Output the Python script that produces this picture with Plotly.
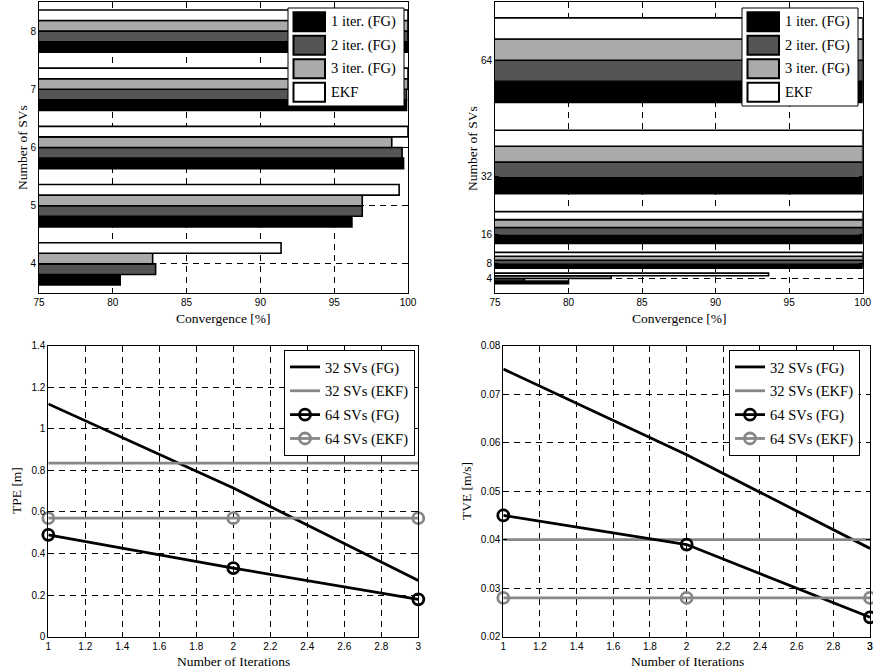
import plotly.graph_objects as go

# ---------------- data ----------------
# top-left: convergence [%] vs number of SVs (4..8)
sv_small = [4, 5, 6, 7, 8]
conv_small_it1 = [80.5, 96.2, 99.7, 99.9, 100.0]
conv_small_it2 = [82.9, 96.9, 99.6, 99.9, 100.0]
conv_small_it3 = [82.7, 96.9, 98.9, 100.0, 100.0]
conv_small_ekf = [91.4, 99.4, 100.0, 100.0, 100.0]

# top-right: convergence [%] vs number of SVs (4..64)
sv_large = [4, 8, 16, 32, 64]
conv_large_it1 = [80.0, 100.0, 100.0, 100.0, 100.0]
conv_large_it2 = [77.0, 100.0, 100.0, 100.0, 100.0]
conv_large_it3 = [82.9, 100.0, 100.0, 100.0, 100.0]
conv_large_ekf = [93.6, 100.0, 100.0, 100.0, 100.0]

bar_names = ["1 iter. (FG)", "2 iter. (FG)", "3 iter. (FG)", "EKF"]
conv_ticks = [75, 80, 85, 90, 95, 100]

# bottom: errors vs number of iterations
iters = [1, 2, 3]
iter_ticks = [1, 1.2, 1.4, 1.6, 1.8, 2, 2.2, 2.4, 2.6, 2.8, 3]
tpe_32_fg = [1.12, 0.715, 0.27]
tpe_32_ekf = [0.835, 0.835, 0.835]
tpe_64_fg = [0.49, 0.33, 0.18]
tpe_64_ekf = [0.57, 0.57, 0.57]
tve_32_fg = [0.0752, 0.0575, 0.0382]
tve_32_ekf = [0.040, 0.040, 0.040]
tve_64_fg = [0.045, 0.039, 0.024]
tve_64_ekf = [0.028, 0.028, 0.028]

line_names = ["32 SVs (FG)", "32 SVs (EKF)", "64 SVs (FG)", "64 SVs (EKF)"]

# ---------------- styles ----------------
W, H = 873, 672
BAR_COLORS = ["#000000", "#555555", "#aaaaaa", "#ffffff"]
GRAY = "#878787"
SANS = "Liberation Sans"
SERIF = "Liberation Serif"
GROUP_FRAC = 4 / 5.5


def px_x(p):
    return p / W


def px_y(p):
    return 1 - p / H


def cells(vals):
    mids = [(a + b) / 2 for a, b in zip(vals[:-1], vals[1:])]
    lo = [vals[0] - (vals[1] - vals[0]) / 2] + mids
    hi = mids + [vals[-1] + (vals[-1] - vals[-2]) / 2]
    return lo, hi


def grouped_positions(vals, n_series):
    lo, hi = cells(vals)
    out = []
    for j in range(n_series):
        ys, ws = [], []
        for l, h in zip(lo, hi):
            c = (l + h) / 2
            bw = (h - l) * GROUP_FRAC / n_series
            ys.append(c + (j - (n_series - 1) / 2) * bw)
            ws.append(bw)
        out.append((ys, ws))
    return out


fig = go.Figure()

# ---------------- bar panels ----------------
panels = [
    ("x", "y", sv_small,
     [conv_small_it1, conv_small_it2, conv_small_it3, conv_small_ekf]),
    ("x2", "y2", sv_large,
     [conv_large_it1, conv_large_it2, conv_large_it3, conv_large_ekf]),
]
for xa, ya, cats, series in panels:
    pos = grouped_positions(cats, len(series))
    for j, (vals, name) in enumerate(zip(series, bar_names)):
        ys, ws = pos[j]
        fig.add_trace(go.Bar(
            x=vals, y=ys, width=ws, orientation="h", name=name,
            marker=dict(color=BAR_COLORS[j], line=dict(color="black", width=1.6)),
            xaxis=xa, yaxis=ya, showlegend=False,
        ))

# ---------------- line panels ----------------
line_panels = [
    ("x3", "y3", "legend", [tpe_32_fg, tpe_32_ekf, tpe_64_fg, tpe_64_ekf]),
    ("x4", "y4", "legend2", [tve_32_fg, tve_32_ekf, tve_64_fg, tve_64_ekf]),
]
line_styles = [
    dict(color="black", mode="lines"),
    dict(color=GRAY, mode="lines"),
    dict(color="black", mode="lines+markers"),
    dict(color=GRAY, mode="lines+markers"),
]
for xa, ya, lg, series in line_panels:
    for j, (vals, name) in enumerate(zip(series, line_names)):
        st = line_styles[j]
        fig.add_trace(go.Scatter(
            x=iters, y=vals, name=name, mode=st["mode"],
            line=dict(color=st["color"], width=2.8),
            marker=dict(symbol="circle-open", size=11, color=st["color"],
                        line=dict(width=2.8, color=st["color"])),
            cliponaxis=False,
            xaxis=xa, yaxis=ya, legend=lg, legendgroup=lg + str(j),
        ))

# ---------------- axes ----------------
axis_common = dict(
    showline=True, linecolor="black", linewidth=1, mirror="ticks",
    ticks="inside", ticklen=4, tickcolor="black", tickwidth=1,
    showgrid=True, gridcolor="black", griddash="6px,5px", gridwidth=0.8,
    zeroline=False, automargin=False, ticklabeloverflow="allow",
    tickfont=dict(family=SANS, size=10, color="black"),
)

top_y = (px_y(293), px_y(2))
bot_y = (px_y(636.7), px_y(345.7))

fig.update_layout(
    xaxis=dict(axis_common, domain=(px_x(39), px_x(408)), anchor="y",
               range=[75, 100], tickvals=conv_ticks),
    yaxis=dict(axis_common, domain=top_y, anchor="x",
               range=[3.5, 8.5], tickvals=sv_small),
    xaxis2=dict(axis_common, domain=(px_x(495), px_x(862.7)), anchor="y2",
                range=[75, 100], tickvals=conv_ticks),
    yaxis2=dict(axis_common, domain=top_y, anchor="x2",
                range=[0, 80], tickvals=sv_large),
    xaxis3=dict(axis_common, domain=(px_x(48.3), px_x(418.3)), anchor="y3",
                range=[1, 3], tickvals=iter_ticks),
    yaxis3=dict(axis_common, domain=bot_y, anchor="x3",
                range=[0, 1.4], dtick=0.2, tick0=0),
    xaxis4=dict(axis_common, domain=(px_x(503.3), px_x(870)), anchor="y4",
                range=[1, 3], tickvals=iter_ticks),
    yaxis4=dict(axis_common, domain=bot_y, anchor="x4",
                range=[0.02, 0.08], dtick=0.01, tick0=0.02),
)

legend_common = dict(
    bgcolor="white", bordercolor="black", borderwidth=1,
    font=dict(family=SERIF, size=14.5, color="black"),
    traceorder="grouped", tracegroupgap=2, itemwidth=30,
    xanchor="right", yanchor="top", itemclick=False, itemdoubleclick=False,
)
fig.update_layout(
    legend=dict(legend_common, x=px_x(415), y=px_y(350)),
    legend2=dict(legend_common, x=px_x(860), y=px_y(350)),
)

# ---------------- legends of the bar panels (patch + label) ----------------
def bar_legend(left, top, right, bottom):
    fig.add_shape(type="rect", xref="paper", yref="paper",
                  x0=px_x(left), x1=px_x(right), y0=px_y(bottom), y1=px_y(top),
                  line=dict(color="black", width=1), fillcolor="white", layer="above")
    pitch = (bottom - top - 4) / len(bar_names)
    for j, name in enumerate(bar_names):
        cy = top + 2 + pitch * (j + 0.5)
        fig.add_shape(type="rect", xref="paper", yref="paper",
                      x0=px_x(left + 5.5), x1=px_x(left + 37),
                      y0=px_y(cy + 9.5), y1=px_y(cy - 9.5),
                      line=dict(color="black", width=2), fillcolor=BAR_COLORS[j],
                      layer="above")
        fig.add_annotation(text=name, x=px_x(left + 41), y=px_y(cy), xref="paper",
                           yref="paper", showarrow=False, xanchor="left",
                           yanchor="middle",
                           font=dict(family=SERIF, size=14.5, color="black"))


bar_legend(288, 8, 404, 106)
bar_legend(742, 8, 858, 106)

# last tick label of the bottom-right axis, which sits at the page edge
fig.add_annotation(text=str(iter_ticks[-1]), x=iter_ticks[-1], xref="x4",
                   y=px_y(646), yref="paper", showarrow=False,
                   xanchor="center", yanchor="middle",
                   font=dict(family=SANS, size=10, color="black"))

# axis titles as annotations
title_font = dict(family=SERIF, size=13.5, color="black")
titles = [
    ("Convergence [%]", 223.5, 318, 0),
    ("Number of SVs", 22, 148, -90),
    ("Convergence [%]", 679, 318, 0),
    ("Number of SVs", 472, 148, -90),
    ("Number of Iterations", 233, 661, 0),
    ("TPE [m]", 16, 491, -90),
    ("Number of Iterations", 687, 661, 0),
    ("TVE [m/s]", 466, 491, -90),
]
for text, xp, yp, ang in titles:
    fig.add_annotation(text=text, x=px_x(xp), y=px_y(yp), xref="paper", yref="paper",
                       showarrow=False, textangle=ang, font=title_font,
                       xanchor="center", yanchor="middle")

fig.update_layout(
    width=W, height=H, margin=dict(l=0, r=0, t=0, b=0),
    paper_bgcolor="white", plot_bgcolor="white",
    barmode="overlay", showlegend=True,
)

fig.write_html("out.html")
